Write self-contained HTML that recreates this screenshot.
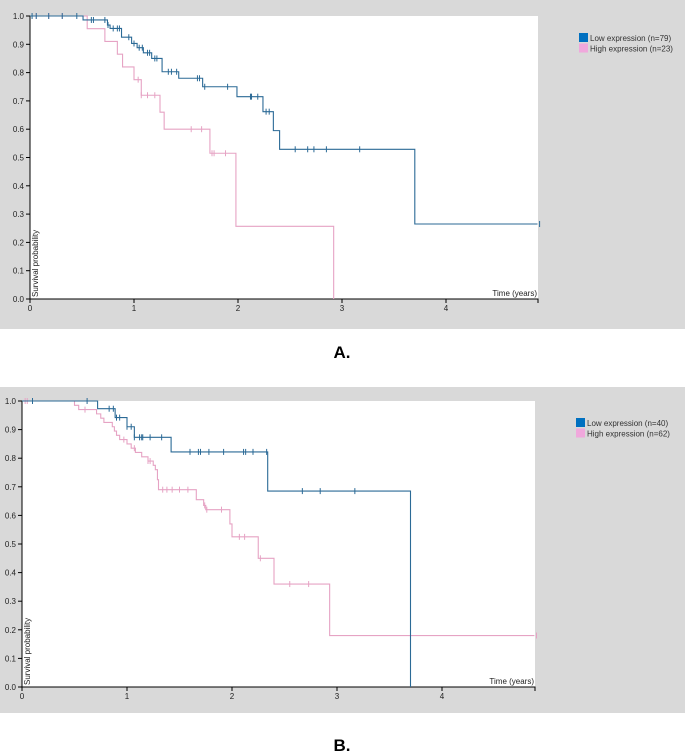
<!DOCTYPE html>
<html><head><meta charset="utf-8"><style>
html,body{margin:0;padding:0;background:#fff;width:685px;height:756px;overflow:hidden;font-family:"Liberation Sans",sans-serif}
svg{position:absolute;left:0;top:0}
</style></head><body>
<svg id="s" width="685" height="756"></svg>
<script>
// Panel A data
const lowA_times=[0,0.51,0.745,0.77,0.88,0.977,1.03,1.09,1.17,1.27,1.43,1.66,1.99,2.24,2.34,2.40,3.70];
const lowA_surv=[1,0.986,0.968,0.956,0.925,0.903,0.888,0.87,0.85,0.803,0.78,0.75,0.715,0.662,0.595,0.529,0.265];
const lowA_censor=[0.02,0.06,0.18,0.31,0.45,0.59,0.61,0.72,0.75,0.8,0.84,0.86,0.95,1.0,1.05,1.08,1.13,1.15,1.2,1.22,1.33,1.36,1.41,1.61,1.63,1.68,1.9,2.12,2.13,2.19,2.27,2.3,2.55,2.67,2.73,2.85,3.17,4.9];
const highA_times=[0,0.55,0.72,0.84,0.89,1.0,1.07,1.25,1.29,1.73,1.98,2.92];
const highA_surv=[1,0.955,0.91,0.865,0.82,0.775,0.72,0.66,0.60,0.515,0.257,0];
const highA_censor=[0.06,0.18,0.31,1.04,1.07,1.13,1.2,1.55,1.65,1.75,1.77,1.88];
// Panel B data
const lowB_times=[0,0.72,0.887,1.0,1.07,1.42,2.34,3.70];
const lowB_surv=[1,0.973,0.942,0.91,0.873,0.822,0.685,0];
const lowB_censor=[0.1,0.62,0.83,0.87,0.9,0.93,1.0,1.04,1.07,1.12,1.14,1.15,1.22,1.33,1.6,1.68,1.7,1.78,1.92,2.11,2.13,2.2,2.33,2.67,2.84,3.17];
const highB_times=[0,0.5,0.54,0.71,0.75,0.78,0.86,0.88,0.9,0.93,1.0,1.04,1.08,1.14,1.2,1.25,1.27,1.29,1.3,1.66,1.73,1.75,1.98,2.0,2.25,2.4,2.93];
const highB_surv=[1,0.985,0.97,0.955,0.94,0.925,0.91,0.895,0.88,0.865,0.85,0.835,0.82,0.805,0.79,0.775,0.76,0.725,0.69,0.655,0.635,0.62,0.57,0.525,0.45,0.36,0.18];
const highB_censor=[0.03,0.05,0.1,0.6,0.97,1.07,1.2,1.22,1.34,1.38,1.43,1.5,1.58,1.74,1.76,1.9,2.07,2.12,2.27,2.55,2.73,4.9];
const yTicks=["0.0","0.1","0.2","0.3","0.4","0.5","0.6","0.7","0.8","0.9","1.0"];
const xTicks=["0","1","2","3","4"];
const legendA=["Low expression (n=79)","High expression (n=23)"];
const legendB=["Low expression (n=40)","High expression (n=62)"];

const NS="http://www.w3.org/2000/svg";
const svg=document.getElementById('s');
function mk(tag,attrs,parent){const e=document.createElementNS(NS,tag);for(const k in attrs)e.setAttribute(k,attrs[k]);(parent||svg).appendChild(e);return e;}
function panel(cfg){
  const g=mk('g',{});
  
  
  const bg=mk('rect',{x:0,y:cfg.gy0,width:685,height:cfg.gy1-cfg.gy0,fill:'#d9d9d9'},g);
  
  
  const pl=mk('rect',{x:cfg.x0,y:cfg.top,width:cfg.xr-cfg.x0,height:cfg.y0-cfg.top,fill:'#fff'},g);
  
  
  const X=t=>cfg.x0+t*cfg.ppy, Y=s=>cfg.y0-s*(cfg.y0-cfg.y1);
  // axes
  const ax=mk('path',{d:`M${cfg.x0},${cfg.top}V${cfg.y0}H${cfg.xr}V${cfg.y0+4}`,stroke:'#000',fill:'none','stroke-width':1},g);
  
  
  yTicks.forEach((lab,i)=>{const v=+lab;const y=Y(v);
    mk('line',{x1:cfg.x0-4,x2:cfg.x0,y1:y,y2:y,stroke:'#000'},g);
    const t=mk('text',{x:cfg.x0-6,y:y+3,'font-size':8,'text-anchor':'end',fill:'#222'},g);t.textContent=lab;
    
    });
  xTicks.forEach(lab=>{const x=X(+lab);
    mk('line',{x1:x,x2:x,y1:cfg.y0,y2:cfg.y0+4,stroke:'#000'},g);
    const t=mk('text',{x:x,y:cfg.y0+12,'font-size':8,'text-anchor':'middle',fill:'#222'},g);t.textContent=lab;
    
    });
  const yt=mk('text',{transform:`translate(${cfg.x0+8},${cfg.y0-2}) rotate(-90)`,'font-size':8,fill:'#222'},g);yt.textContent='Survival probability';
  
  
  const xt=mk('text',{x:cfg.xr-1,y:cfg.y0-3,'font-size':8,'text-anchor':'end',fill:'#222'},g);xt.textContent='Time (years)';
  
  
  function curve(times,surv,cens,color,nm,endT){
    let d=`M${X(times[0])},${Y(surv[0])}`;
    for(let i=1;i<times.length;i++){d+=`H${X(times[i])}V${Y(surv[i])}`;}
    if(surv[surv.length-1]>0)d+=`H${X(endT)}`;
    const p=mk('path',{d,stroke:color,fill:'none','stroke-width':1.1},g);
    
    
    cens.forEach(c=>{let s=surv[0];for(let i=0;i<times.length;i++){if(times[i]<=c)s=surv[i];}
      const l=mk('line',{x1:X(c),x2:X(c),y1:Y(s)-3,y2:Y(s)+3,stroke:color,'stroke-width':1},g);
      
      });
  }
  curve(cfg.hT,cfg.hS,cfg.hC,'#e6a3c4','high-expression',cfg.endT);
  curve(cfg.lT,cfg.lS,cfg.lC,'#2b6a96','low-expression',cfg.endT);
  // legend
  [['#0070c0',cfg.leg[0]],['#f0a8dc',cfg.leg[1]]].forEach((it,i)=>{
    const sw=mk('rect',{x:cfg.lx,y:cfg.ly+i*10.5,width:9,height:9,fill:it[0]},g);
    
    
    const t=mk('text',{x:cfg.lx+11,y:cfg.ly+i*10.5+8,'font-size':8,fill:'#333'},g);t.textContent=it[1];
    
    });
  const lb=mk('text',{x:342,y:cfg.labY,'font-size':17,'font-weight':'bold','text-anchor':'middle',fill:'#000'},g);lb.textContent=cfg.label;
  
  
}
panel({name:'panel-a',gy0:0,gy1:329,x0:30,xr:538,top:16,y0:299,y1:16,ppy:104,endT:4.88,
  lT:lowA_times,lS:lowA_surv,lC:lowA_censor,hT:highA_times,hS:highA_surv,hC:highA_censor,
  leg:legendA,lx:579,ly:33,label:'A.',labY:358});
panel({name:'panel-b',gy0:387,gy1:713,x0:22,xr:535,top:401,y0:687,y1:401,ppy:105,endT:4.88,
  lT:lowB_times,lS:lowB_surv,lC:lowB_censor,hT:highB_times,hS:highB_surv,hC:highB_censor,
  leg:legendB,lx:576,ly:418,label:'B.',labY:751});
</script>
</body></html>
